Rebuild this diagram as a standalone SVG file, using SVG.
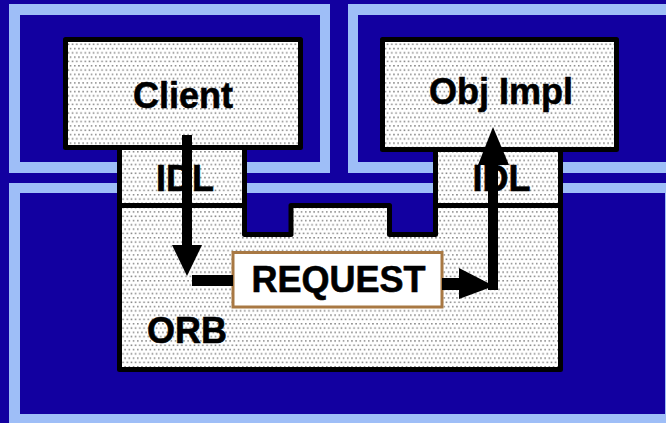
<svg xmlns="http://www.w3.org/2000/svg" width="666" height="423" viewBox="0 0 666 423">
  <defs>
    <!-- grey dot screen used as the fill of every box -->
    <pattern id="stipple" patternUnits="userSpaceOnUse" width="4.2" height="8.6">
      <rect width="4.2" height="8.6" fill="#ffffff"/>
      <rect x="0.5" y="0.5" width="1.5" height="1.5" fill="#7f7f7f"/>
      <rect x="2.6" y="4.8" width="1.5" height="1.5" fill="#7f7f7f"/>
    </pattern>
    <style>
      .band { fill: #9ebef7; }
      .field { fill: #1200a0; }
      .box { fill: url(#stipple); stroke: #000; stroke-width: 5; stroke-linejoin: round; }
      .label { font-family: "Liberation Sans", Arial, sans-serif; font-weight: bold; font-size: 36px; fill: #000; stroke: #000; stroke-width: 0.6; }
      .shaft { stroke: #000; fill: none; }
      .head { fill: #000; }
    </style>
  </defs>

  <!-- backdrop and the three framed panels -->
  <rect x="0" y="0" width="666" height="423" class="field"/>
  <g id="panels">
    <rect x="9" y="4" width="321" height="169" class="band"/>
    <rect x="20" y="15" width="300" height="147" class="field"/>
    <rect x="348" y="4" width="330" height="169" class="band"/>
    <rect x="358" y="15" width="320" height="147" class="field"/>
    <rect x="9" y="183" width="670" height="250" class="band"/>
    <rect x="20" y="193" width="645" height="221" class="field"/>
  </g>

  <g id="orb">
    <path class="box" d="M119.5,205.5 H244.5 V234.5 H291 V205.5 H389.5 V234.5 H435.5 V205.5 H560.5 V369.5 H119.5 Z"/>
    <text class="label" x="147" y="343">ORB</text>
  </g>

  <g id="client">
    <rect class="box" x="65.5" y="39.5" width="235" height="108"/>
    <text class="label" x="183" y="108" text-anchor="middle">Client</text>
  </g>

  <g id="client-idl">
    <rect class="box" x="119.5" y="147.5" width="125" height="58"/>
    <text class="label" x="185" y="191" text-anchor="middle">IDL</text>
  </g>

  <g id="obj-impl">
    <rect class="box" x="382.5" y="39.5" width="234" height="110"/>
    <text class="label" x="501" y="104" text-anchor="middle">Obj Impl</text>
  </g>

  <g id="obj-impl-idl">
    <rect class="box" x="435.5" y="149.5" width="125" height="56"/>
    <text class="label" x="501.5" y="191" text-anchor="middle">IDL</text>
  </g>

  <g id="request">
    <rect x="233" y="252.5" width="209" height="54.5" fill="#ffffff" stroke="#a87843" stroke-width="3"/>
    <text class="label" x="338.5" y="292" text-anchor="middle">REQUEST</text>
  </g>

  <g id="connectors">
    <!-- client down through IDL into the ORB -->
    <line class="shaft" x1="187" y1="135" x2="187" y2="248" stroke-width="10"/>
    <polygon class="head" points="172,245 202,245 187,276"/>
    <line class="shaft" x1="192" y1="280.5" x2="233" y2="280.5" stroke-width="11"/>
    <!-- request out of the ORB and up to the implementation -->
    <line class="shaft" x1="442" y1="284" x2="462" y2="284" stroke-width="12"/>
    <polygon class="head" points="459,268 459,299 494,286"/>
    <line class="shaft" x1="493" y1="290" x2="493" y2="163" stroke-width="10"/>
    <polygon class="head" points="478,165 509,165 493,127"/>
  </g>
</svg>
